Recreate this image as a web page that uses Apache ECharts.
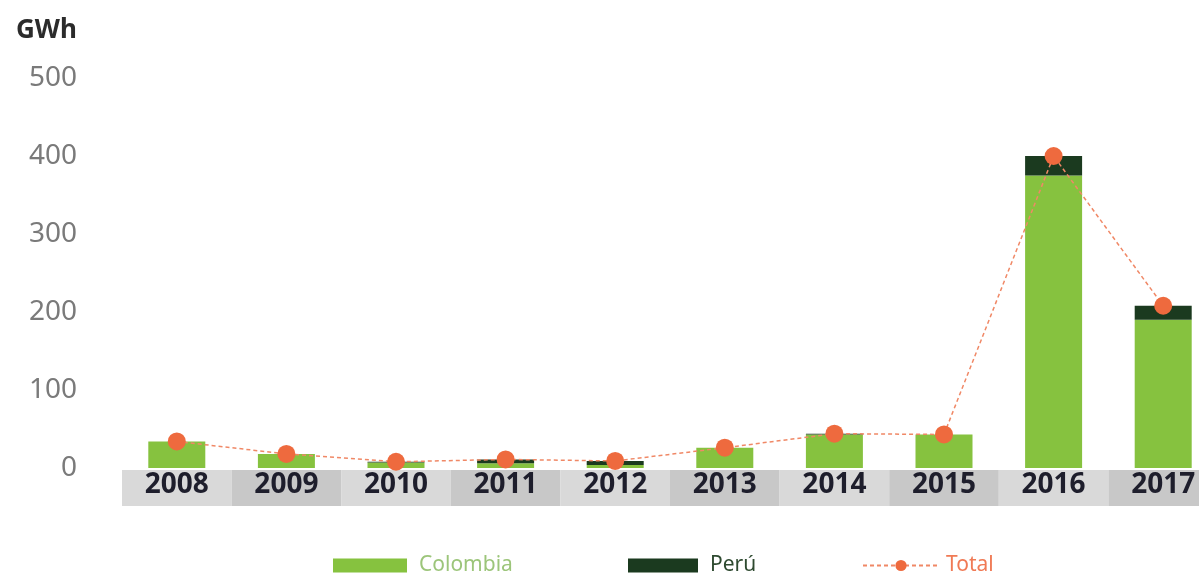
<!DOCTYPE html>
<html>
<head>
<meta charset="utf-8">
<script src="https://cdn.jsdelivr.net/npm/echarts@6/dist/echarts.min.js"></script>
<style>
  html, body { margin: 0; padding: 0; background: #ffffff; }
  #chart { width: 1199px; height: 573px; }
</style>
</head>
<body>
<div id="chart"></div>
<script>
// Electricity exported, GWh per year
const years = ['2008', '2009', '2010', '2011', '2012', '2013', '2014', '2015', '2016', '2017'];
const colombia = [34, 18, 7, 6, 4, 26, 43, 43, 375, 190];
const peru = [0, 0, 1, 5, 5, 0, 1, 0, 25, 18];
const total = [34, 18, 8, 11, 9, 26, 44, 43, 400, 208];
const yTicks = [0, 100, 200, 300, 400, 500];

// narrow face: the stretch keyword goes in front of the weight in the font shorthand
const FONT = "'Noto Sans', 'DejaVu Sans', sans-serif";
const NARROW = 'extra-condensed';
const GREEN = '#86c23f';
const DARK = '#1b3a1f';
const ORANGE = '#ee6a3e';

// plot area: the last category runs past the right edge of the page
const PLOT_LEFT = 122;
const PLOT_WIDTH = 1096;

const chart = echarts.init(document.getElementById('chart'), null, { renderer: 'canvas' });

chart.setOption({
  animation: false,
  backgroundColor: '#ffffff',
  title: {
    text: 'GWh',
    left: 11, top: 13,
    textStyle: { fontFamily: FONT, fontStyle: NARROW, fontWeight: 'bold', fontSize: 26, color: '#2b2b2b' }
  },
  legend: [
    {
      data: ['Colombia'], icon: 'rect', left: 328, top: 550, itemWidth: 74, itemHeight: 14,
      textStyle: { fontFamily: FONT, fontStyle: NARROW, fontSize: 21, color: '#9cc57a', padding: [0, 0, 0, 7] }
    },
    {
      data: ['Perú'], icon: 'rect', left: 623, top: 550, itemWidth: 70, itemHeight: 14,
      textStyle: { fontFamily: FONT, fontStyle: NARROW, fontSize: 21, color: '#2e4a30', padding: [0, 0, 0, 7] }
    },
    {
      data: ['Total'], left: 857, top: 550, itemWidth: 76, itemHeight: 14,
      textStyle: { fontFamily: FONT, fontStyle: NARROW, fontSize: 21, color: '#f07a55', padding: [0, 0, 0, 2] }
    }
  ],
  grid: [
    { left: PLOT_LEFT, width: PLOT_WIDTH, top: 78, bottom: 105, outerBoundsMode: 'none', containLabel: false },
    { left: PLOT_LEFT, width: PLOT_WIDTH, top: 470, height: 36, outerBoundsMode: 'none', containLabel: false }
  ],
  xAxis: [
    {
      type: 'category', data: years, gridIndex: 0,
      axisLine: { show: false }, axisTick: { show: false },
      axisLabel: {
        margin: 17, verticalAlign: 'middle',
        fontFamily: FONT, fontStyle: NARROW, fontWeight: 'bold', fontSize: 28, color: '#1e1e2c'
      }
    },
    {
      type: 'category', data: years, gridIndex: 1,
      axisLine: { show: false }, axisTick: { show: false }, axisLabel: { show: false },
      splitArea: { show: true, areaStyle: { color: ['#d9d9d9', '#c8c8c8'] } },
      z: 0
    }
  ],
  yAxis: [
    {
      type: 'value', gridIndex: 0, min: yTicks[0], max: yTicks[yTicks.length - 1], interval: 100,
      axisLine: { show: false }, axisTick: { show: false }, splitLine: { show: false },
      axisLabel: { margin: 45, fontFamily: FONT, fontStyle: NARROW, fontSize: 28, color: '#7a7a7a' }
    },
    { type: 'value', gridIndex: 1, show: false }
  ],
  series: [
    {
      name: 'Colombia', type: 'bar', stack: 'gwh', data: colombia, barWidth: 57,
      itemStyle: { color: GREEN }, z: 2
    },
    {
      name: 'Perú', type: 'bar', stack: 'gwh', data: peru, barWidth: 57,
      itemStyle: { color: DARK }, z: 2
    },
    {
      name: 'Total', type: 'line', data: total, z: 5,
      symbol: 'circle', symbolSize: 18,
      itemStyle: { color: ORANGE },
      lineStyle: { color: '#f08866', width: 1.5, type: [4, 3] }
    }
  ]
});
</script>
</body>
</html>
